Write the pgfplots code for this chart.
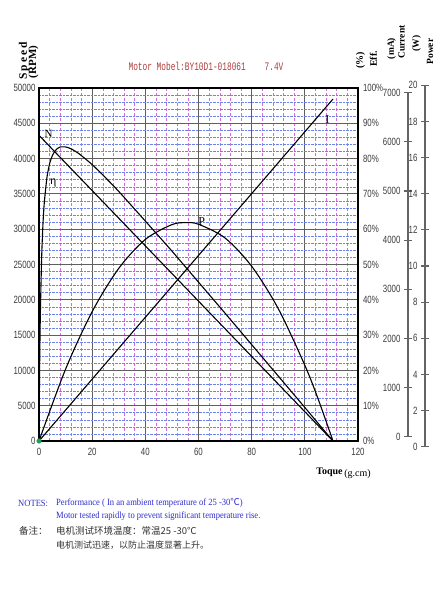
\documentclass[border=0pt]{standalone}
\usepackage{pgfplots}
\pgfplotsset{compat=1.18}
\usepackage{fontspec}
\setmainfont{Liberation Serif}
\newfontfamily\cjk{Noto Sans CJK SC}
\newfontfamily\narrow[FakeStretch=0.75]{Liberation Sans}
\newfontfamily\titlefont[FakeStretch=0.68]{Liberation Mono}
\newfontfamily\notefont[FakeStretch=0.9]{Liberation Serif}
\definecolor{majgrid}{RGB}{95,95,95}
\definecolor{mingridx}{RGB}{205,110,220}
\definecolor{mingridy}{RGB}{110,130,235}
\definecolor{titlered}{RGB}{175,60,60}
\definecolor{noteblue}{RGB}{45,45,205}
\definecolor{ticktext}{RGB}{60,60,60}
\definecolor{axgray}{RGB}{100,100,100}
\definecolor{dotgreen}{RGB}{30,160,90}

\pgfplotsset{
  mainframe/.style={at={(39pt,159pt)}, anchor=south west, width=319pt, height=353pt,
    scale only axis, xmin=0, xmax=120},
  hiddenframe/.style={mainframe, hide axis},
}

\begin{document}
\begin{tikzpicture}
\useasboundingbox (0pt,0pt) rectangle (442pt,600pt);
\fill[white] (0pt,0pt) rectangle (442pt,600pt);

% main axis: speed
\begin{axis}[mainframe,
  ymin=0, ymax=50000,
  xtick={0,20,...,120}, ytick={0,5000,...,50000},
  minor x tick num=4, minor y tick num=4,
  grid=both,
  major grid style={majgrid, line width=1.1pt},
  minor x grid style={mingridx, densely dashed, line width=0.5pt},
  minor y grid style={mingridy, densely dotted, line width=0.6pt},
  major tick length=0pt, minor tick length=0pt,
  axis line style={black, line width=1.4pt},
  scaled y ticks=false,
  /pgf/number format/1000 sep={},
  /pgf/number format/assume math mode=true,
  tick label style={font=\narrow\fontsize{10.5}{10.5}\selectfont, text=ticktext},
  xticklabel style={yshift=-4pt},
  clip=false,
]
\addplot[black, line width=1.1pt] coordinates {(0,43300) (110.6,0)};
\node[font=\fontsize{11}{11}\selectfont] at (axis cs:3.6,43500) {N};
\end{axis}

% efficiency
\begin{axis}[hiddenframe, ymin=0, ymax=100]
\addplot[black, line width=1.1pt, smooth, tension=0.4] coordinates {
(0,0) (0.25,21.7) (0.5,35.5) (1,52.1) (1.5,61.6) (2,67.6) (3,74.7) (4,78.6) (5,80.8)
(6,82.1) (7,82.9) (8,83.3) (10,83.3) (12,82.8) (15,81.4) (20,78.3) (25,74.6) (30,70.7)
(40,62.3) (50,53.8) (60,45.0) (70,36.2) (80,27.3) (90,18.4) (100,9.5) (105,5.0) (110.6,0)};
\node[font=\fontsize{12}{12}\selectfont] at (axis cs:5.4,73.2) {η};
\end{axis}

% current
\begin{axis}[hiddenframe, ymin=0, ymax=7000]
\addplot[black, line width=1.1pt] coordinates {(0,0) (110.6,6782)};
\node[font=\fontsize{12}{12}\selectfont] at (axis cs:108.5,6370) {I};
\end{axis}

% power
\begin{axis}[hiddenframe, ymin=0, ymax=20, clip=false]
\addplot[black, line width=1.1pt, smooth] coordinates {
(0,0) (10,4.07) (20,7.33) (30,9.78) (40,11.42) (50,12.26) (55.3,12.37) (60,12.28)
(70,11.50) (80,9.90) (90,7.50) (100,4.29) (105,2.38) (110.6,0)};
\node[font=\fontsize{12}{12}\selectfont] at (axis cs:61.2,12.45) {P};
\addplot[only marks, mark=*, mark size=2.3pt, dotgreen] coordinates {(0,0)};
\end{axis}

% right efficiency labels
\begin{axis}[mainframe, ymin=0, ymax=100, hide x axis,
  axis y line*=right, y axis line style={draw=none},
  ytick={0,10,...,100}, yticklabel={\pgfmathprintnumber{\tick}\%},
  major tick length=0pt,
  /pgf/number format/assume math mode=true,
  yticklabel style={font=\narrow\fontsize{10.5}{10.5}\selectfont, text=ticktext, xshift=1.5pt}]
\addplot[draw=none] coordinates {(0,0)};
\end{axis}

% current axis
\draw[axgray, line width=1.2pt] (408pt,163.3pt) -- (408pt,507.3pt);
\begin{axis}[at={(408pt,163.3pt)}, anchor=south west, width=1pt, height=344pt, scale only axis,
  xmin=0, xmax=1, ymin=0, ymax=7000, hide x axis, clip=false,
  axis y line*=left, y axis line style={draw=none},
  ytick={0,1000,...,7000}, tick align=center, major tick length=8pt,
  every tick/.style={draw=axgray, line width=1.1pt},
  /pgf/number format/1000 sep={},
  /pgf/number format/assume math mode=true,
  yticklabel style={font=\narrow\fontsize{10.5}{10.5}\selectfont, text=ticktext}]
\addplot[draw=none] coordinates {(0,0)};
\end{axis}

% power axis
\draw[axgray, line width=1.2pt] (425pt,153.3pt) -- (425pt,514.7pt);
\begin{axis}[at={(425pt,153.3pt)}, anchor=south west, width=1pt, height=361.4pt, scale only axis,
  xmin=0, xmax=1, ymin=0, ymax=20, hide x axis, clip=false,
  axis y line*=left, y axis line style={draw=none},
  ytick={0,2,...,20}, tick align=center, major tick length=8pt,
  every tick/.style={draw=axgray, line width=1.1pt},
  /pgf/number format/assume math mode=true,
  yticklabel style={font=\narrow\fontsize{10.5}{10.5}\selectfont, text=ticktext}]
\addplot[draw=none] coordinates {(0,0)};
\end{axis}

% title and axis titles
\node[font=\titlefont\fontsize{11.5}{11.5}\selectfont, text=titlered] at (206pt,534pt)
  {Motor Mobel:BY10D1-018061\ \ \ \ 7.4V};
\node[rotate=90, font=\bfseries\fontsize{11.5}{11.5}\selectfont\addfontfeature{LetterSpace=18}] at (24pt,539pt) {Speed};
\node[rotate=90, font=\bfseries\fontsize{11}{11}\selectfont] at (33.5pt,538pt) {(RPM)};
\node[rotate=90, font=\bfseries\fontsize{10}{10}\selectfont] at (360.5pt,539.5pt) {(\%)};
\node[rotate=90, font=\bfseries\fontsize{10}{10}\selectfont] at (373.5pt,541pt) {Eff.};
\node[rotate=90, font=\bfseries\fontsize{9.5}{9.5}\selectfont] at (391.5pt,551.5pt) {(mA)};
\node[rotate=90, font=\bfseries\fontsize{9.5}{9.5}\selectfont] at (401.5pt,558pt) {Current};
\node[rotate=90, font=\bfseries\fontsize{9.5}{9.5}\selectfont] at (416.5pt,556.5pt) {(W)};
\node[rotate=90, font=\bfseries\fontsize{9.5}{9.5}\selectfont] at (430pt,548.5pt) {Power};
\node[font=\bfseries\fontsize{10}{10}\selectfont] at (329.5pt,127.5pt) {Toque};
\node[font=\fontsize{10}{10}\selectfont] at (357.5pt,126pt) {(g.cm)};

% notes
\node[anchor=west, inner sep=0pt, text=noteblue, font=\notefont\fontsize{9.5}{9.5}\selectfont] at (18pt,97pt) {NOTES:};
\node[anchor=west, inner sep=0pt, text=noteblue, font=\notefont\fontsize{9.5}{9.5}\selectfont] at (56pt,97pt)
  {Performance ( In an ambient temperature of 25 -30{\cjk ℃})};
\node[anchor=west, inner sep=0pt, text=noteblue, font=\notefont\fontsize{9.5}{9.5}\selectfont] at (56pt,84pt)
  {Motor tested rapidly to prevent significant temperature rise.};
\node[anchor=west, inner sep=0pt, text=black!80, font=\cjk\fontsize{9.5}{9.5}\selectfont] at (19pt,69pt) {备注：};
\node[anchor=west, inner sep=0pt, text=black!80, font=\cjk\fontsize{9.5}{9.5}\selectfont] at (56pt,69pt) {电机测试环境温度：常温25 -30℃};
\node[anchor=west, inner sep=0pt, text=black!80, font=\cjk\fontsize{9}{9}\selectfont] at (56pt,55pt) {电机测试迅速，以防止温度显著上升。};
\end{tikzpicture}
\end{document}
